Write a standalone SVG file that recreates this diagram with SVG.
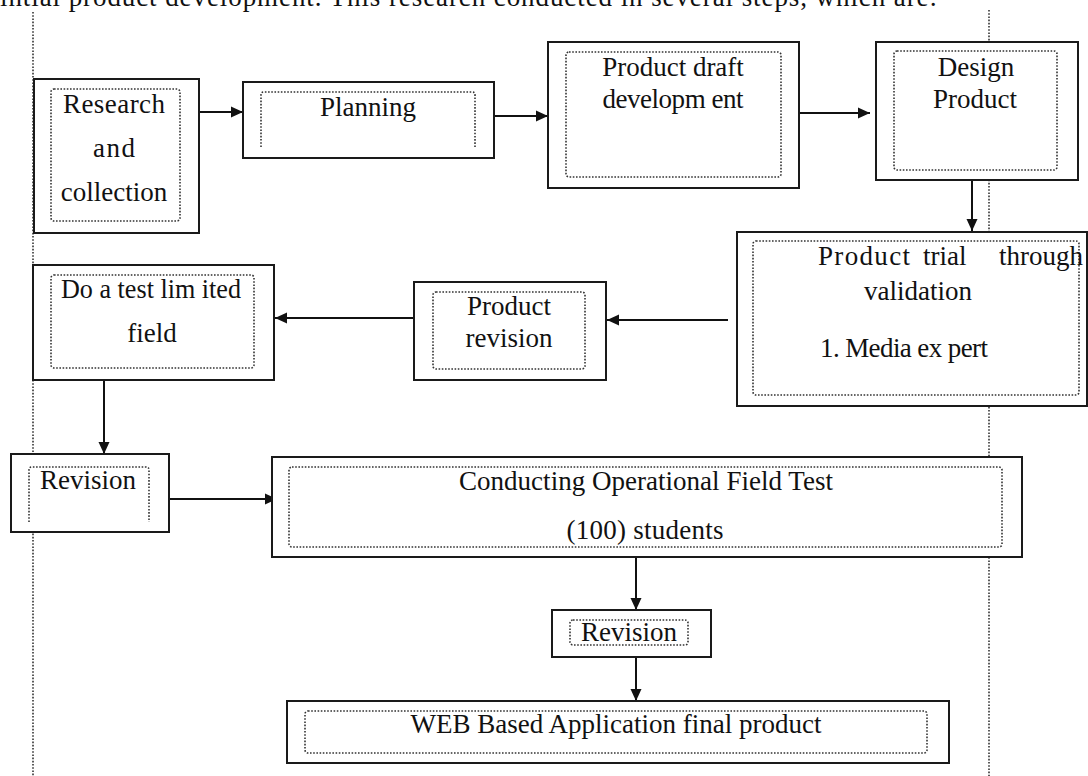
<svg xmlns="http://www.w3.org/2000/svg" width="1088" height="776" viewBox="0 0 1088 776">
  <defs>
    <marker id="arrow" viewBox="0 0 12 12" refX="12" refY="6" markerWidth="12" markerHeight="12" markerUnits="userSpaceOnUse" orient="auto">
      <path d="M0,0.5 L12,6 L0,11.5 Z" fill="#111"/>
    </marker>
    <style>
      .guide { stroke: #333; stroke-width: 1.6; stroke-dasharray: 1.6 1.6; fill: none; }
      .outer { fill: #fff; stroke: #1a1a1a; stroke-width: 2; }
      .inner { fill: none; stroke: #333; stroke-width: 1.6; stroke-dasharray: 1.6 1.6; }
      .link { stroke: #111; stroke-width: 2; fill: none; marker-end: url(#arrow); }
      text { font-family: "Liberation Serif", "Times New Roman", serif; font-size: 27px; fill: #111; }
      .c { text-anchor: middle; }
    </style>
  </defs>
  <rect width="1088" height="776" fill="#fff"/>

  <!-- page text above the chart -->
  <text x="0" y="6" font-size="26" textLength="937" lengthAdjust="spacing">intial product development. This research conducted in several steps, which are:</text>

  <!-- page margin guides -->
  <g id="guides">
    <line class="guide" x1="33" y1="12" x2="33" y2="776"/>
    <line class="guide" x1="989" y1="10" x2="989" y2="776"/>
  </g>

  <!-- connectors -->
  <g id="connectors">
    <line class="link" x1="199" y1="112" x2="243" y2="112"/>
    <line class="link" x1="494" y1="116" x2="548" y2="116"/>
    <line class="link" x1="799" y1="113" x2="870" y2="113"/>
    <line class="link" x1="972" y1="180" x2="972" y2="231"/>
    <line class="link" x1="728" y1="320" x2="607" y2="320"/>
    <line class="link" x1="414" y1="318" x2="275" y2="318"/>
    <line class="link" x1="104" y1="380" x2="104" y2="454"/>
    <line class="link" x1="169" y1="499" x2="277" y2="499"/>
    <line class="link" x1="636" y1="557" x2="636" y2="610"/>
    <line class="link" x1="636" y1="657" x2="636" y2="701"/>
  </g>

  <g id="research">
    <rect class="outer" x="34" y="79" width="165" height="154"/>
    <rect class="inner" x="51" y="89" width="129" height="132" rx="3"/>
    <text class="c" x="114" y="113" textLength="102" lengthAdjust="spacing">Research</text>
    <text class="c" x="114" y="157" textLength="42" lengthAdjust="spacing">and</text>
    <text class="c" x="114" y="201">collection</text>
  </g>

  <g id="planning">
    <rect class="outer" x="243" y="82" width="251" height="76"/>
    <path class="inner" d="M261,147 V95 Q261,92 264,92 H472 Q475,92 475,95 V147"/>
    <text class="c" x="368" y="116">Planning</text>
  </g>

  <g id="draft">
    <rect class="outer" x="548" y="42" width="251" height="146"/>
    <rect class="inner" x="566" y="52" width="215" height="125" rx="3"/>
    <text class="c" x="673" y="76">Product draft</text>
    <text class="c" x="673" y="108" textLength="141" lengthAdjust="spacing">developm ent</text>
  </g>

  <g id="design">
    <rect class="outer" x="876" y="42" width="202" height="138"/>
    <rect class="inner" x="894" y="51" width="163" height="119" rx="3"/>
    <text class="c" x="976" y="76">Design</text>
    <text class="c" x="975" y="108">Product</text>
  </g>

  <g id="trial">
    <rect class="outer" x="737" y="232" width="350" height="174"/>
    <rect class="inner" x="753" y="241" width="326" height="154" rx="3"/>
    <text x="818" y="265" textLength="92" lengthAdjust="spacing">Product</text>
    <text x="923" y="265">trial</text>
    <text x="1083" y="265" text-anchor="end">through</text>
    <text x="864" y="300" textLength="108" lengthAdjust="spacing">validation</text>
    <text x="820" y="357" textLength="168" lengthAdjust="spacing">1. Media ex pert</text>
  </g>

  <g id="product-revision">
    <rect class="outer" x="414" y="282" width="192" height="98"/>
    <rect class="inner" x="433" y="292" width="152" height="77" rx="3"/>
    <text class="c" x="509" y="315">Product</text>
    <text class="c" x="509" y="347">revision</text>
  </g>

  <g id="limited-test">
    <rect class="outer" x="33" y="265" width="241" height="115"/>
    <rect class="inner" x="51" y="275" width="203" height="93" rx="3"/>
    <text class="c" x="151" y="298" textLength="180" lengthAdjust="spacingAndGlyphs">Do a test lim ited</text>
    <text class="c" x="152" y="342">field</text>
  </g>

  <g id="revision-1">
    <rect class="outer" x="11" y="454" width="158" height="78"/>
    <path class="inner" d="M29,522 V470 Q29,467 32,467 H146 Q149,467 149,470 V522"/>
    <text x="40" y="489">Revision</text>
  </g>

  <g id="field-test">
    <rect class="outer" x="272" y="457" width="750" height="100"/>
    <rect class="inner" x="289" y="467" width="713" height="80" rx="3"/>
    <text class="c" x="646" y="490" textLength="374" lengthAdjust="spacing">Conducting Operational Field Test</text>
    <text class="c" x="645" y="539" textLength="157" lengthAdjust="spacing">(100) students</text>
  </g>

  <g id="revision-2">
    <rect class="outer" x="552" y="610" width="159" height="47"/>
    <rect class="inner" x="570" y="620" width="118" height="25" rx="3"/>
    <text class="c" x="629" y="641">Revision</text>
  </g>

  <g id="final-product">
    <rect class="outer" x="287" y="701" width="662" height="62"/>
    <rect class="inner" x="305" y="711" width="622" height="42" rx="3"/>
    <text class="c" x="616" y="733">WEB Based Application final product</text>
  </g>
</svg>
